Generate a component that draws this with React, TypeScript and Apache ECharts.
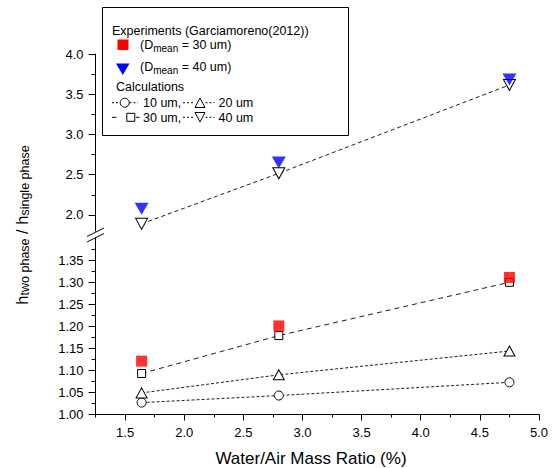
import React, { useEffect, useRef } from 'react';
import * as echarts from 'echarts';

const FONT = '"Liberation Sans", Arial, Helvetica, sans-serif';

// Water/Air mass ratio (%) of the three test points
const ratio = [1.64, 2.8, 4.75];
// Calculations (lower panel)
const calc10 = [1.027, 1.043, 1.073];
const calc20 = [1.049, 1.09, 1.144];
const calc30 = [1.093, 1.179, 1.3];
// Experiments D_mean = 30 um (lower panel)
const exp30 = [1.121, 1.201, 1.311];
// Upper panel: D = 40 um
const calc40 = [1.889, 2.517, 3.615];
const exp40 = [2.076, 2.651, 3.683];

// ticks
const xMajor = [1.5, 2.0, 2.5, 3.0, 3.5, 4.0, 4.5, 5.0];
const xMinor = [1.25, 1.75, 2.25, 2.75, 3.25, 3.75, 4.25, 4.75];
const yUpMajor = [2.0, 2.5, 3.0, 3.5, 4.0];
const yUpMinor = [2.25, 2.75, 3.25, 3.75];
const yLoMajor = [1.0, 1.05, 1.1, 1.15, 1.2, 1.25, 1.3, 1.35];
const yLoMinor = [1.025, 1.075, 1.125, 1.175, 1.225, 1.275, 1.325, 1.375];

const pts = (ys: number[]) => ratio.map((x, i) => [x, ys[i]]);

const GL = 95.5;
const GR = 19;

const subRich = (main: number, sub: number, shift: number) => ({
  m: { fontSize: main, fontFamily: FONT, color: '#000', lineHeight: main + 2, verticalAlign: 'top' },
  s: {
    fontSize: sub,
    fontFamily: FONT,
    color: '#000',
    lineHeight: main + 2,
    verticalAlign: 'top',
    padding: [shift, 0, 0, 0],
  },
});

const hollow = { color: '#fff', borderColor: '#000', borderWidth: 1 };
const lineCol = '#1e1e1e';

function txt(x: number, y: number, text: string, size = 12.5) {
  return {
    type: 'text',
    x,
    y,
    style: { text, fontSize: size, fontFamily: FONT, fill: '#000', verticalAlign: 'middle' },
    z: 11,
  };
}

function dash(x1: number, x2: number, y: number, solid = false) {
  return {
    type: 'line',
    shape: { x1, y1: y, x2, y2: y },
    style: { stroke: '#000', lineWidth: 1, lineDash: solid ? null : [2, 2] },
    z: 11,
  };
}

function buildOption(): any {
  const axisLineStyle = { lineStyle: { color: '#000', width: 1 } };
  return {
    animation: false,
    backgroundColor: '#fff',
    grid: [
      { left: GL, right: GR, top: 54, height: 177 },
      { left: GL, right: GR, top: 238.2, bottom: 53.5 },
    ],
    xAxis: [
      { type: 'value', gridIndex: 0, min: 1.25, max: 5, interval: 0.25, show: false },
      {
        type: 'value',
        gridIndex: 1,
        min: 1.25,
        max: 5,
        interval: 0.25,
        axisLine: { show: true, onZero: false, ...axisLineStyle },
        axisTick: { show: true, length: 6, customValues: xMajor, lineStyle: { color: '#000' } },
        axisLabel: {
          customValues: xMajor,
          formatter: (v: number) => v.toFixed(1),
          fontSize: 13,
          fontFamily: FONT,
          color: '#000',
          margin: 11,
        },
        splitLine: { show: false },
      },
      {
        type: 'value',
        gridIndex: 1,
        position: 'bottom',
        min: 1.25,
        max: 5,
        interval: 0.25,
        axisLine: { show: false, onZero: false },
        axisTick: { show: true, length: 3, customValues: xMinor, lineStyle: { color: '#000' } },
        axisLabel: { show: false },
        splitLine: { show: false },
      },
    ],
    yAxis: [
      {
        type: 'value',
        gridIndex: 0,
        min: 1.8,
        max: 4.0,
        interval: 0.1,
        axisLine: { show: true, onZero: false, ...axisLineStyle },
        axisTick: { show: true, length: 7, customValues: yUpMajor, lineStyle: { color: '#000' } },
        axisLabel: {
          customValues: yUpMajor,
          formatter: (v: number) => v.toFixed(1),
          fontSize: 13,
          fontFamily: FONT,
          color: '#000',
          margin: 12,
        },
        splitLine: { show: false },
      },
      {
        type: 'value',
        gridIndex: 0,
        position: 'left',
        min: 1.8,
        max: 4.0,
        interval: 0.1,
        axisLine: { show: false, onZero: false },
        axisTick: { show: true, length: 4, customValues: yUpMinor, lineStyle: { color: '#000' } },
        axisLabel: { show: false },
        splitLine: { show: false },
      },
      {
        type: 'value',
        gridIndex: 1,
        min: 1.0,
        max: 1.4,
        interval: 0.05,
        axisLine: { show: true, onZero: false, ...axisLineStyle },
        axisTick: { show: true, length: 7, customValues: yLoMajor, lineStyle: { color: '#000' } },
        axisLabel: {
          customValues: yLoMajor,
          formatter: (v: number) => v.toFixed(2),
          fontSize: 13,
          fontFamily: FONT,
          color: '#000',
          margin: 12,
        },
        splitLine: { show: false },
      },
      {
        type: 'value',
        gridIndex: 1,
        position: 'left',
        min: 1.0,
        max: 1.4,
        interval: 0.05,
        axisLine: { show: false, onZero: false },
        axisTick: { show: true, length: 4, customValues: yLoMinor, lineStyle: { color: '#000' } },
        axisLabel: { show: false },
        splitLine: { show: false },
      },
    ],
    series: [
      {
        name: 'calc10',
        type: 'line',
        xAxisIndex: 1,
        yAxisIndex: 2,
        data: pts(calc10),
        symbol: 'circle',
        symbolSize: 9,
        itemStyle: hollow,
        lineStyle: { color: lineCol, width: 1, type: [3, 2] },
        z: 2,
      },
      {
        name: 'calc20',
        type: 'line',
        xAxisIndex: 1,
        yAxisIndex: 2,
        data: pts(calc20),
        symbol: 'triangle',
        symbolSize: [11, 10],
        itemStyle: hollow,
        lineStyle: { color: lineCol, width: 1, type: [3, 2] },
        z: 2,
      },
      {
        name: 'calc30',
        type: 'line',
        xAxisIndex: 1,
        yAxisIndex: 2,
        data: pts(calc30),
        symbol: 'rect',
        symbolSize: 8,
        itemStyle: hollow,
        lineStyle: { color: lineCol, width: 1, type: [5, 4] },
        z: 2,
      },
      {
        name: 'exp30',
        type: 'scatter',
        xAxisIndex: 1,
        yAxisIndex: 2,
        data: pts(exp30),
        symbol: 'rect',
        symbolSize: 11,
        itemStyle: { color: '#ff0000' },
        z: 3,
      },
      {
        name: 'calc40',
        type: 'line',
        xAxisIndex: 0,
        yAxisIndex: 0,
        data: pts(calc40),
        symbol: 'triangle',
        symbolRotate: 180,
        symbolSize: [12, 11],
        itemStyle: hollow,
        lineStyle: { color: lineCol, width: 1, type: [4, 3] },
        z: 2,
      },
      {
        name: 'exp40',
        type: 'scatter',
        xAxisIndex: 0,
        yAxisIndex: 0,
        data: pts(exp40),
        symbol: 'triangle',
        symbolRotate: 180,
        symbolSize: [14, 12],
        itemStyle: { color: '#0000ff' },
        z: 3,
      },
    ],
    graphic: [
      // axis break marks
      { type: 'line', shape: { x1: 87, y1: 236.5, x2: 104, y2: 228 }, style: { stroke: '#000', lineWidth: 1 }, z: 10 },
      { type: 'line', shape: { x1: 87, y1: 242, x2: 104, y2: 233.5 }, style: { stroke: '#000', lineWidth: 1 }, z: 10 },
      // y axis title
      {
        type: 'text',
        x: 23,
        y: 225,
        rotation: Math.PI / 2,
        style: {
          text: '{m|h}{s|two phase}{m| / h}{s|single phase}',
          rich: subRich(16.5, 12.5, 5),
          align: 'center',
          verticalAlign: 'middle',
        },
        z: 10,
      },
      // x axis title
      {
        type: 'text',
        x: 311,
        y: 458,
        style: {
          text: 'Water/Air Mass Ratio (%)',
          fontSize: 17,
          fontFamily: FONT,
          fill: '#000',
          align: 'center',
          verticalAlign: 'middle',
        },
        z: 10,
      },
      // legend box
      {
        type: 'rect',
        shape: { x: 102.5, y: 7.5, width: 246, height: 128 },
        style: { fill: '#fff', stroke: '#000', lineWidth: 1 },
        z: 10,
      },
      txt(112, 31, 'Experiments (Garciamoreno(2012))'),
      { type: 'rect', shape: { x: 117.5, y: 39.5, width: 11, height: 10.5 }, style: { fill: '#ff0000' }, z: 11 },
      {
        type: 'text',
        x: 140,
        y: 46,
        style: { text: '{m|(D}{s|mean}{m| = 30 um)}', rich: subRich(12.5, 10, 5), verticalAlign: 'middle' },
        z: 11,
      },
      {
        type: 'polygon',
        shape: { points: [[116, 63.5], [129.5, 63.5], [122.75, 75]] },
        style: { fill: '#0000ff' },
        z: 11,
      },
      {
        type: 'text',
        x: 140,
        y: 68,
        style: { text: '{m|(D}{s|mean}{m| = 40 um)}', rich: subRich(12.5, 10, 5), verticalAlign: 'middle' },
        z: 11,
      },
      txt(116, 87, 'Calculations'),
      // row: 10 um, 20 um
      dash(112, 120, 102.7),
      { type: 'circle', shape: { cx: 124.7, cy: 102.7, r: 4.5 }, style: { fill: '#fff', stroke: '#000', lineWidth: 1 }, z: 11 },
      dash(129.5, 138, 102.7),
      txt(143, 103, '10 um,'),
      dash(183, 195, 102.7),
      {
        type: 'polygon',
        shape: { points: [[195, 107.5], [205, 107.5], [200, 98]] },
        style: { fill: '#fff', stroke: '#000', lineWidth: 1 },
        z: 11,
      },
      dash(205.5, 214.5, 102.7),
      txt(218.5, 103, '20 um'),
      // row: 30 um, 40 um
      dash(112, 116.5, 117.3, true),
      { type: 'rect', shape: { x: 126.8, y: 113.3, width: 8, height: 8 }, style: { fill: '#fff', stroke: '#000', lineWidth: 1 }, z: 11 },
      dash(136, 139.5, 117.3, true),
      txt(143, 117.5, '30 um,'),
      dash(183, 195, 117.3),
      {
        type: 'polygon',
        shape: { points: [[195, 112.5], [205, 112.5], [200, 122]] },
        style: { fill: '#fff', stroke: '#000', lineWidth: 1 },
        z: 11,
      },
      dash(205.5, 214.5, 117.3),
      txt(218.5, 117.5, '40 um'),
    ],
  };
}

export default function App() {
  const ref = useRef<HTMLDivElement>(null);
  useEffect(() => {
    document.body.style.margin = '0';
    const chart = echarts.init(ref.current as HTMLDivElement, null, { renderer: 'svg' });
    chart.setOption(buildOption());
    return () => {
      chart.dispose();
    };
  }, []);
  return <div ref={ref} style={{ width: 558, height: 468, background: '#fff' }} />;
}
